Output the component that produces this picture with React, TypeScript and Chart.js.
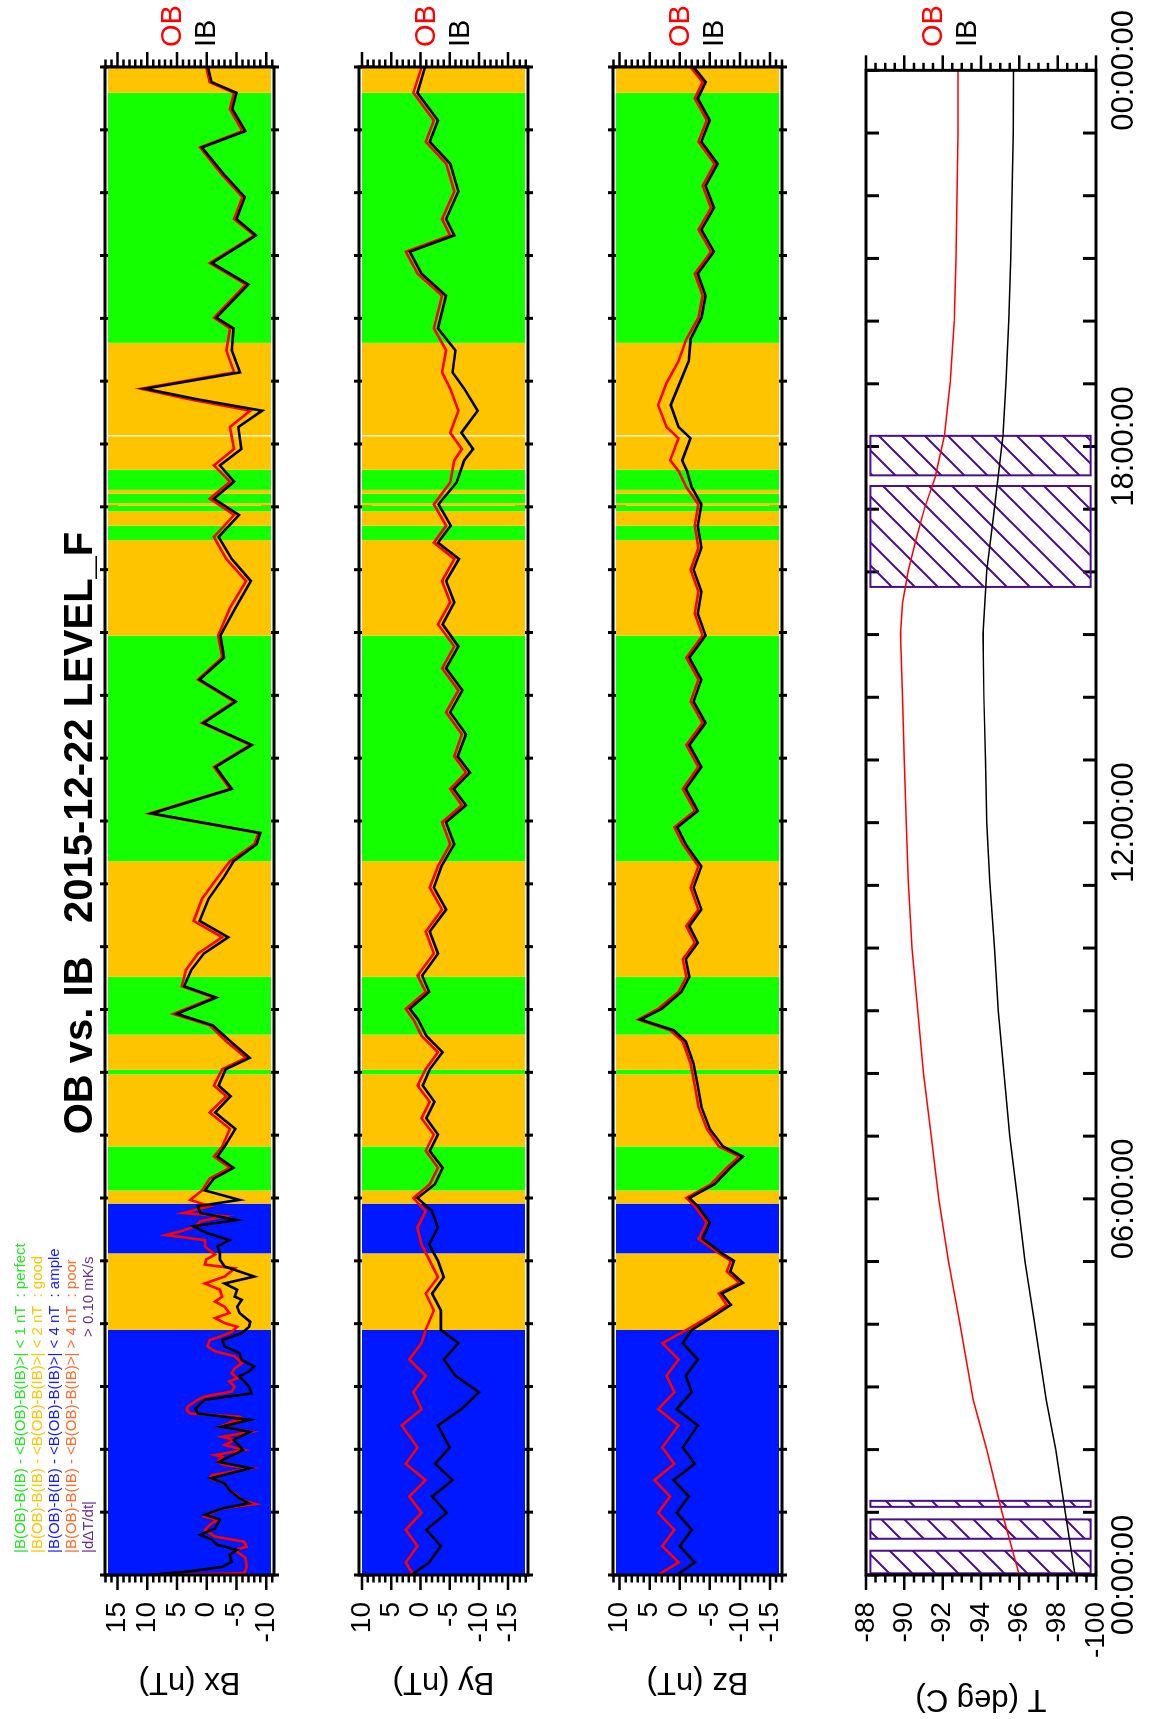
import React, { useEffect, useRef } from 'react';
import { Chart, registerables } from 'chart.js';
Chart.register(...registerables);

const FONT = '"Liberation Sans", Arial, Helvetica, sans-serif';
Chart.defaults.font.family = FONT;

// ---------- data ----------
const TIME_TICKS = [0, 6, 12, 18, 24];
const TIME_LABELS = ['00:00:00', '06:00:00', '12:00:00', '18:00:00', '00:00:00'];

const BX_TICKS = [15, 10, 5, 0, -5, -10];
const BY_TICKS = [10, 5, 0, -5, -10, -15];
const BZ_TICKS = [10, 5, 0, -5, -10, -15];
const T_TICKS = [-88, -90, -92, -94, -96, -98, -100];

// quality bands: [start h, end h, class]
const BANDS: [number, number, string][] = [
  [0, 3.9, 'b'], [3.9, 5.12, 'o'], [5.12, 5.91, 'b'], [5.91, 6.12, 'o'], [6.12, 6.82, 'g'],
  [6.82, 7.97, 'o'], [7.97, 8.04, 'g'], [8.04, 8.6, 'o'], [8.6, 9.52, 'g'], [9.52, 11.36, 'o'],
  [11.36, 14.95, 'g'], [14.95, 16.47, 'o'], [16.47, 16.7, 'g'], [16.7, 16.93, 'o'], [16.93, 17.02, 'g'],
  [17.02, 17.06, 'o'], [17.06, 17.21, 'g'], [17.21, 17.27, 'o'], [17.27, 17.59, 'g'], [17.59, 18.12, 'o'],
  [18.14, 19.61, 'o'], [19.61, 23.59, 'g'], [23.59, 24, 'o'],
];

// |dΔT/dt| flagged intervals [start h, end h]
const HATCH: [number, number][] = [
  [0.027, 0.387], [0.578, 0.887], [1.087, 1.183], [15.76, 17.37], [17.54, 18.17],
];
const HATCH_T: [number, number] = [-88.23, -99.72];

const BX_OB: [number, number][] = [
  [0, 7.0], [0.03, -6.3], [0.13, -6.7], [0.27, -6.5], [0.4, -4.7], [0.45, -6.7], [0.53, -6.3], [0.61, -1.4], [0.72, 0.3], [0.8, -0.5], [0.88, -1.8], [0.93, 0.3], [0.98, -0.7],
  [1.06, -2.6], [1.13, -8.2], [1.19, -5.9], [1.27, -5.1], [1.35, -3.8], [1.46, -3.0], [1.54, -0.5], [1.59, -0.9], [1.7, -7.5], [1.75, -3.0], [1.8, -1.8], [1.88, -2.6], [1.91, -1.4], [1.99, -6.3],
  [2.07, -3.0], [2.15, -4.7], [2.2, -2.6], [2.28, -7.5], [2.36, -2.2], [2.44, -4.2], [2.47, -6.3], [2.52, -5.5], [2.57, 2.8], [2.63, 3.4], [2.68, 3.2], [2.79, 1.5], [2.84, 0.3], [2.92, -4.2],
  [3.0, -4.7], [3.08, -3.8], [3.13, -5.1], [3.21, -4.2], [3.29, -4.7], [3.37, -5.9], [3.48, -4.7], [3.56, -1.4], [3.64, -0.1], [3.74, -0.5], [3.82, -3.0], [3.87, -4.2], [3.95, -5.1],
  [4.01, -3.0], [4.09, -1.4], [4.17, -3.8], [4.27, -3.0], [4.35, -1.4], [4.43, -2.6], [4.54, -2.2], [4.64, 0.3], [4.75, -3.0], [4.88, -4.7], [4.94, 0.3],
  [5.02, 0.1], [5.1, -1.4], [5.18, -0.3], [5.23, 0.3], [5.33, 0.3], [5.41, 6.9], [5.47, 4.4], [5.55, 1.9], [5.63, 1.1], [5.71, -3.0], [5.76, 4.0], [5.87, -0.5], [5.97, 2.8],
  [6.12, 0.8], [6.31, -0.5], [6.48, -3.9], [6.66, -1.2], [6.82, -2.6], [7.1, -3.9], [7.36, -0.5], [7.62, -3.3], [7.79, -1.2], [8.05, -2.6], [8.23, -6.6], [8.49, -3.3], [8.75, -0.5],
  [8.93, 5.6], [9.19, -1.2], [9.37, 4.2], [9.63, 3.5], [9.89, 1.5], [10.15, -2.6], [10.41, 2.2], [10.76, 0.8], [11.11, -1.9], [11.36, -3.9], [11.63, -8.0], [11.81, -8.7],
  [12.12, 9.6], [12.51, -3.9], [12.86, -1.2], [13.21, -7.3], [13.56, 0.8], [13.9, -4.6], [14.25, 1.5], [14.6, -2.6], [14.95, -1.9], [15.39, -3.9], [15.82, -6.6], [16.17, -3.3],
  [16.52, -1.2], [16.87, -4.6], [17.13, -0.5], [17.4, -3.9], [17.66, -1.2], [17.92, -4.6], [18.27, -3.9], [18.53, -7.3], [18.71, 2.8], [18.88, 11.0], [19.14, -4.6], [19.49, -3.3],
  [19.84, -3.9], [20.01, -1.2], [20.54, -6.6], [20.88, -0.5], [21.32, -8.0], [21.58, -4.6], [21.93, -6.0], [22.28, -2.6], [22.72, 1.1], [22.98, -6.0], [23.33, -3.9], [23.59, -4.6],
  [23.76, -0.5], [24, 0.1],
];
const BX_IB: [number, number][] = [
  [0, 9.8], [0.05, 3.6], [0.13, -2.6], [0.21, -4.2], [0.32, -3.8], [0.4, -5.1], [0.48, -1.8], [0.56, -0.9], [0.64, 1.1], [0.69, -0.1], [0.74, -1.4], [0.88, -2.2], [0.96, 0.3],
  [1.06, -2.6], [1.14, -7.1], [1.22, -5.5], [1.35, -3.8], [1.46, -3.0], [1.54, -0.7], [1.7, -7.3], [1.8, -2.0], [1.99, -6.1], [2.15, -4.5], [2.28, -7.3], [2.36, -2.4], [2.47, -7.3],
  [2.57, 1.5], [2.65, 1.9], [2.79, 0.3], [2.89, -7.5], [3.0, -7.1], [3.08, -6.3], [3.16, -5.5], [3.24, -7.1], [3.32, -8.0], [3.42, -5.9], [3.53, -5.5], [3.64, -3.0], [3.74, -2.6],
  [3.85, -5.9], [3.95, -7.1], [4.03, -7.3], [4.17, -5.5], [4.27, -5.1], [4.38, -5.9], [4.43, -4.7], [4.54, -5.1], [4.64, -3.0], [4.75, -8.0], [4.91, -3.0], [5.02, -2.2], [5.12, -2.2],
  [5.23, -1.8], [5.33, -3.8], [5.44, -0.1], [5.55, 2.3], [5.65, -5.1], [5.76, 1.1], [5.87, 1.5], [5.97, -5.5],
  [6.12, 0.3], [6.31, -1.2], [6.48, -4.5], [6.66, -1.8], [6.82, -3.0], [7.1, -4.8], [7.36, -1.4], [7.62, -4.0], [7.79, -2.0], [8.05, -3.2], [8.23, -7.2], [8.49, -4.0], [8.75, -1.0],
  [8.93, 5.0], [9.19, -1.6], [9.37, 3.8], [9.63, 2.6], [9.89, 0.5], [10.15, -3.6], [10.41, 1.2], [10.76, -0.3], [11.11, -2.9], [11.36, -4.5], [11.63, -8.4], [11.81, -9.0],
  [12.12, 9.2], [12.51, -4.2], [12.86, -1.5], [13.21, -7.6], [13.56, 0.5], [13.9, -4.9], [14.25, 1.2], [14.6, -2.9], [14.95, -2.3], [15.39, -4.8], [15.82, -7.4], [16.17, -4.2],
  [16.52, -2.0], [16.87, -5.4], [17.13, -1.2], [17.4, -4.6], [17.66, -2.2], [17.92, -5.8], [18.27, -5.3], [18.53, -9.3], [18.71, 1.5], [18.88, 10.4], [19.14, -5.6], [19.49, -4.2],
  [19.84, -4.5], [20.01, -1.6], [20.54, -7.0], [20.88, -0.9], [21.32, -8.3], [21.58, -5.0], [21.93, -6.4], [22.28, -3.0], [22.72, 0.8], [22.98, -6.5], [23.33, -4.3], [23.59, -5.0],
  [23.76, -0.8], [24, -0.2],
];
const BY_OB: [number, number][] = [
  [0, 1.2], [0.2, 2.5], [0.46, 0.5], [0.72, 2.5], [0.99, -0.2], [1.25, 1.9], [1.51, -0.9], [1.77, 2.5], [2.03, 0.5], [2.38, 3.2], [2.64, -0.2], [2.91, 1.2], [3.17, -0.9], [3.43, 1.9],
  [3.69, -0.2], [3.9, -0.9], [4.21, -2.3], [4.48, -0.9], [4.74, -3.0], [5.0, -1.6], [5.26, -0.2], [5.53, 0.5], [5.79, -0.9], [6.0, 1.2], [6.22, -1.6], [6.48, -3.0], [6.75, -0.9],
  [7.01, -2.3], [7.27, -0.2], [7.53, -1.6], [7.79, 0.5], [8.05, -0.9], [8.32, -3.0], [8.58, -0.2], [8.84, 1.2], [9.01, 2.5], [9.28, -0.9], [9.54, 0.5], [9.89, -2.3], [10.24, -0.9],
  [10.59, -3.7], [10.94, -1.6], [11.28, -3.0], [11.63, -5.1], [11.98, -3.7], [12.25, -7.1], [12.51, -5.1], [12.77, -7.8], [13.03, -5.8], [13.38, -7.1], [13.73, -4.4], [14.08, -6.5],
  [14.43, -3.7], [14.78, -5.8], [15.13, -3.0], [15.48, -5.1], [15.82, -3.7], [16.17, -5.8], [16.43, -2.3], [16.7, -4.4], [17.04, -2.3], [17.39, -5.1], [17.74, -5.8], [17.92, -7.1],
  [18.18, -5.1], [18.53, -6.5], [18.88, -5.1], [19.14, -3.7], [19.49, -4.4], [19.84, -2.3], [20.36, -3.7], [20.71, 0.5], [21.06, 2.5], [21.32, -5.1], [21.58, -3.7], [22.02, -5.8],
  [22.46, -4.4], [22.81, -0.9], [23.15, -2.3], [23.59, 1.2], [24, -0.2],
];
const BY_IB: [number, number][] = [
  [0, 1.5], [0.2, -1.5], [0.46, -3.5], [0.72, -1.0], [0.99, -4.5], [1.25, -2.0], [1.51, -5.5], [1.77, -2.5], [2.03, -5.0], [2.38, -3.0], [2.64, -7.0], [2.91, -10.0], [3.17, -6.0],
  [3.43, -4.0], [3.69, -6.5], [3.9, -3.5], [4.21, -3.5], [4.48, -2.0], [4.74, -4.0], [5.0, -3.0], [5.26, -1.5], [5.53, -3.0], [5.79, -2.0], [6.0, 0.5], [6.22, -2.5], [6.48, -3.8],
  [6.75, -1.6], [7.01, -3.0], [7.27, -1.0], [7.53, -2.4], [7.79, -0.4], [8.05, -1.6], [8.32, -3.8], [8.58, -1.0], [8.84, 0.4], [9.01, 1.8], [9.28, -1.5], [9.54, -0.3], [9.89, -3.0],
  [10.24, -1.6], [10.59, -4.4], [10.94, -2.3], [11.28, -3.6], [11.63, -5.8], [11.98, -4.4], [12.25, -7.8], [12.51, -5.7], [12.77, -8.5], [13.03, -6.4], [13.38, -7.8], [13.73, -5.1],
  [14.08, -7.2], [14.43, -4.4], [14.78, -6.5], [15.13, -3.8], [15.48, -5.8], [15.82, -4.4], [16.17, -6.6], [16.43, -3.0], [16.7, -5.2], [17.04, -3.1], [17.39, -6.2], [17.74, -7.5],
  [17.92, -9.0], [18.18, -7.0], [18.53, -9.8], [18.88, -7.5], [19.14, -5.5], [19.49, -6.0], [19.84, -3.0], [20.36, -4.4], [20.71, -0.2], [21.06, 1.8], [21.32, -5.8], [21.58, -4.4],
  [22.02, -6.5], [22.46, -5.1], [22.81, -1.6], [23.15, -3.0], [23.59, 0.5], [24, -0.8],
];
const BZ_OB: [number, number][] = [
  [0, 3.6], [0.2, 0.2], [0.46, 2.9], [0.72, 0.9], [0.99, 3.6], [1.25, 1.6], [1.51, 4.2], [1.77, 0.9], [2.03, 2.9], [2.38, 0.2], [2.64, 3.6], [2.91, 0.9], [3.17, 2.2], [3.43, 0.2],
  [3.69, 2.9], [3.9, -1.1], [4.13, -5.2], [4.3, -7.8], [4.48, -6.5], [4.65, -9.9], [4.83, -7.8], [5.0, -8.5], [5.12, -6.5], [5.35, -3.1], [5.61, -4.5], [5.87, -2.5], [6.0, -1.1],
  [6.22, -5.2], [6.48, -7.8], [6.66, -9.9], [6.82, -6.5], [7.1, -4.5], [7.45, -3.1], [7.79, -2.5], [8.14, -1.8], [8.49, -0.5], [8.67, 1.6], [8.84, 6.9], [9.01, 3.6], [9.28, 0.2],
  [9.52, -1.1], [9.8, -0.5], [10.06, -2.5], [10.33, -1.1], [10.59, -3.1], [10.94, -1.8], [11.28, -3.1], [11.63, -0.5], [11.9, 0.9], [12.16, -2.5], [12.51, -0.5], [12.86, -3.1],
  [13.21, -1.1], [13.56, -3.8], [13.9, -1.8], [14.25, -3.1], [14.6, -1.1], [14.95, -3.8], [15.3, -2.5], [15.65, -3.1], [16.0, -1.8], [16.35, -3.1], [16.7, -2.5], [17.04, -3.1],
  [17.31, -1.1], [17.57, 0.2], [17.74, 1.6], [18.09, 0.2], [18.27, 2.2], [18.62, 3.6], [18.97, 2.2], [19.32, 0.2], [19.67, -1.1], [20.01, -3.1], [20.36, -3.8], [20.71, -2.5],
  [21.06, -5.2], [21.41, -3.1], [21.76, -5.2], [22.11, -3.8], [22.46, -5.8], [22.81, -3.1], [23.15, -4.5], [23.5, -2.5], [23.76, -3.8], [24, -1.8],
];
const BZ_IB: [number, number][] = [
  [0, 0.5], [0.2, -2.5], [0.46, 0.0], [0.72, -2.0], [0.99, 0.5], [1.25, -1.5], [1.51, 1.0], [1.77, -2.5], [2.03, -0.5], [2.38, -3.0], [2.64, 0.5], [2.91, -2.0], [3.17, -1.0],
  [3.43, -3.0], [3.69, -0.5], [3.9, -2.0], [4.13, -5.8], [4.3, -8.5], [4.48, -7.0], [4.65, -10.5], [4.83, -8.4], [5.0, -9.0], [5.12, -7.0], [5.35, -3.8], [5.61, -5.0], [5.87, -3.0],
  [6.0, -1.6], [6.22, -5.8], [6.48, -8.4], [6.66, -10.5], [6.82, -7.2], [7.1, -5.0], [7.45, -3.6], [7.79, -3.0], [8.14, -2.3], [8.49, -1.0], [8.67, 1.0], [8.84, 6.5], [9.01, 3.0],
  [9.28, -0.3], [9.52, -1.6], [9.8, -1.0], [10.06, -3.0], [10.33, -1.6], [10.59, -3.6], [10.94, -2.3], [11.28, -3.6], [11.63, -1.0], [11.9, 0.4], [12.16, -3.0], [12.51, -1.0],
  [12.86, -3.6], [13.21, -1.6], [13.56, -4.3], [13.9, -2.3], [14.25, -3.6], [14.6, -1.6], [14.95, -4.3], [15.3, -3.0], [15.65, -3.6], [16.0, -2.3], [16.35, -3.6], [16.7, -3.0],
  [17.04, -3.6], [17.31, -2.0], [17.57, -1.2], [17.74, -0.4], [18.09, -1.8], [18.27, 0.2], [18.62, 1.5], [18.97, 0.0], [19.32, -1.5], [19.67, -1.8], [20.01, -3.6], [20.36, -4.3],
  [20.71, -3.0], [21.06, -5.7], [21.41, -3.6], [21.76, -5.7], [22.11, -4.3], [22.46, -6.3], [22.81, -3.6], [23.15, -5.0], [23.5, -3.0], [23.76, -4.3], [24, -2.3],
];
const T_OB: [number, number][] = [
  [0, -96.0], [1, -95.1], [2, -94.3], [2.79, -93.6], [4, -92.9], [5, -92.3], [6, -91.8], [7, -91.4], [8, -91.0], [9, -90.7], [10, -90.4], [11.07, -90.2], [12, -90.1],
  [13, -90.0], [14.01, -89.9], [15.01, -89.8], [15.5, -89.9], [16.02, -90.2], [16.5, -90.6], [17.02, -91.06], [17.5, -91.6], [18.18, -92.1], [19.03, -92.4], [20, -92.6],
  [21, -92.7], [22, -92.75], [23, -92.8], [24, -92.8],
];
const T_IB: [number, number][] = [
  [0, -98.9], [1, -98.4], [2, -97.9], [2.79, -97.4], [4, -96.8], [5, -96.3], [6, -95.9], [7, -95.5], [8, -95.2], [9, -94.9], [10, -94.7], [11.07, -94.46], [12, -94.3],
  [13, -94.24], [14.01, -94.15], [15.01, -94.1], [16.02, -94.3], [17.02, -94.7], [18.18, -95.15], [19.03, -95.3], [20, -95.45], [21, -95.55], [22, -95.62], [23, -95.68], [24, -95.7],
];

// ---------- layout (landscape coordinates, rotated at the end) ----------
const W = 1719;
const CH = 1180;
const PLOT_LEFT = 144;
const PLOT_RIGHT = 1652;
const XAXIS_H = 60;
const BAND_COLORS: Record<string, string> = { g: '#14ff00', o: '#ffc400', b: '#0018ff' };
const PURPLE = '#4b0f8a';

type Panel = {
  key: string; top: number; bottom: number; title: string; titlePad: number;
  range: [number, number]; ticks: number[]; major: number; minor: number;
  ob: [number, number][]; ib: [number, number][]; lw: number; bands: boolean; hatch: boolean; time: boolean;
};

const PANELS: Panel[] = [
  { key: 'bx', top: 105, bottom: 334, title: 'Bx (nT)', titlePad: 19, range: [-11.3, 17.1], ticks: BX_TICKS, major: 5, minor: 1, ob: BX_OB, ib: BX_IB, lw: 2.6, bands: true, hatch: false, time: false },
  { key: 'by', top: 359, bottom: 588, title: 'By (nT)', titlePad: 19, range: [-18.4, 10.5], ticks: BY_TICKS, major: 5, minor: 1, ob: BY_OB, ib: BY_IB, lw: 2.6, bands: true, hatch: false, time: false },
  { key: 'bz', top: 613, bottom: 842, title: 'Bz (nT)', titlePad: 19, range: [-17.0, 11.1], ticks: BZ_TICKS, major: 5, minor: 1, ob: BZ_OB, ib: BZ_IB, lw: 2.6, bands: true, hatch: false, time: false },
  { key: 't', top: 866, bottom: 1096, title: 'T (deg C)', titlePad: 2, range: [-100, -88], ticks: T_TICKS, major: 2, minor: 0.5, ob: T_OB, ib: T_IB, lw: 1.5, bands: false, hatch: true, time: true },
];

function makeHatch(): CanvasPattern | string {
  const c = document.createElement('canvas');
  c.width = 23; c.height = 23;
  const g = c.getContext('2d');
  if (!g) return PURPLE;
  g.strokeStyle = PURPLE; g.lineWidth = 2;
  g.beginPath();
  g.moveTo(-2, 25); g.lineTo(25, -2);
  g.moveTo(-14, 14); g.lineTo(14, -14);
  g.moveTo(9, 37); g.lineTo(37, 9);
  g.stroke();
  return g.createPattern(c, 'repeat') || PURPLE;
}

function panelPlugin(p: Panel) {
  return {
    id: 'panel_' + p.key,
    beforeDatasetsDraw(chart: any) {
      const { ctx, chartArea: a, scales } = chart;
      const x = scales.x, y = scales.y;
      ctx.save();
      // hourly time ticks
      ctx.strokeStyle = '#000'; ctx.lineWidth = 3;
      for (let h = 0; h <= 24; h++) {
        const px = x.getPixelForValue(h);
        ctx.beginPath();
        if (p.bands) {
          ctx.moveTo(px, a.top - 5); ctx.lineTo(px, a.top + 13);
          ctx.moveTo(px, a.bottom + 5); ctx.lineTo(px, a.bottom - 13);
        } else {
          ctx.moveTo(px, a.top); ctx.lineTo(px, a.top + 13);
          ctx.moveTo(px, a.bottom); ctx.lineTo(px, a.bottom - 13);
        }
        ctx.stroke();
      }
      if (p.bands) {
        for (const [t0, t1, c] of BANDS) {
          const x0 = x.getPixelForValue(t0), x1 = x.getPixelForValue(t1);
          ctx.fillStyle = BAND_COLORS[c];
          ctx.fillRect(x0, a.top + 3, x1 - x0, a.bottom - a.top - 6);
        }
      }
      if (p.hatch) {
        const pat = makeHatch();
        for (const [t0, t1] of HATCH) {
          const x0 = x.getPixelForValue(t0), x1 = x.getPixelForValue(t1);
          const y0 = y.getPixelForValue(HATCH_T[0]), y1 = y.getPixelForValue(HATCH_T[1]);
          ctx.fillStyle = pat as any;
          ctx.fillRect(x0, y0, x1 - x0, y1 - y0);
          ctx.strokeStyle = PURPLE; ctx.lineWidth = 2;
          ctx.strokeRect(x0, y0, x1 - x0, y1 - y0);
        }
      }
      ctx.restore();
    },
    afterDatasetsDraw(chart: any) {
      const { ctx, chartArea: a, scales } = chart;
      const y = scales.y;
      ctx.save();
      ctx.strokeStyle = '#000';
      ctx.lineWidth = 2.5;
      const [lo, hi] = p.range;
      const n0 = Math.ceil(lo / p.minor - 1e-9), n1 = Math.floor(hi / p.minor + 1e-9);
      for (let k = n0; k <= n1; k++) {
        const v = k * p.minor;
        const isMajor = Math.abs(v / p.major - Math.round(v / p.major)) < 1e-6;
        const len = isMajor ? 15 : 7.5;
        const py = y.getPixelForValue(v);
        ctx.beginPath();
        ctx.moveTo(a.left, py); ctx.lineTo(a.left - len, py);
        ctx.moveTo(a.right, py); ctx.lineTo(a.right + len, py);
        ctx.stroke();
      }
      ctx.lineWidth = 3;
      ctx.strokeRect(a.left, a.top, a.right - a.left, a.bottom - a.top);
      ctx.restore();
    },
  };
}

function PanelChart({ p }: { p: Panel }) {
  const ref = useRef<HTMLCanvasElement | null>(null);
  useEffect(() => {
    if (!ref.current) return;
    const chart = new Chart(ref.current, {
      type: 'line',
      data: {
        datasets: [
          { label: 'IB', data: p.ib.map(([x, y]) => ({ x, y })), borderColor: '#000000', borderWidth: p.lw, pointRadius: 0, tension: 0, fill: false },
          { label: 'OB', data: p.ob.map(([x, y]) => ({ x, y })), borderColor: '#ff0000', borderWidth: p.lw, pointRadius: 0, tension: 0, fill: false },
        ],
      },
      options: {
        responsive: false,
        animation: false,
        devicePixelRatio: 1,
        events: [],
        layout: { padding: { top: p.top, bottom: CH - p.bottom - (p.time ? XAXIS_H : 0), left: 0, right: W - PLOT_RIGHT } },
        plugins: { legend: { display: false }, tooltip: { enabled: false }, title: { display: false } },
        scales: {
          x: {
            type: 'linear', min: 0, max: 24, display: p.time,
            grid: { display: false, drawTicks: false }, border: { display: false },
            ticks: {
              color: '#000', font: { size: 31, family: FONT }, padding: 10, maxRotation: 0, autoSkip: false,
              callback: (_v: any, i: number) => TIME_LABELS[i],
            },
            afterBuildTicks: (s: any) => { s.ticks = TIME_TICKS.map((v) => ({ value: v })); },
            afterFit: (s: any) => { s.height = XAXIS_H; },
          },
          y: {
            type: 'linear', min: p.range[0], max: p.range[1],
            grid: { display: false, drawTicks: false }, border: { display: false },
            ticks: { color: '#000', font: { size: 28, family: FONT }, padding: 27, autoSkip: false, callback: (v: any) => String(v) },
            afterBuildTicks: (s: any) => { s.ticks = p.ticks.map((v) => ({ value: v })); },
            afterFit: (s: any) => { s.width = PLOT_LEFT; },
            title: { display: true, text: p.title, color: '#000', font: { size: 31, family: FONT }, padding: { top: p.titlePad, bottom: 0 } },
          },
        },
      } as any,
      plugins: [panelPlugin(p)],
    });
    return () => chart.destroy();
  }, [p]);
  return <canvas ref={ref} width={W} height={CH} style={{ position: 'absolute', left: 0, top: 0, width: W, height: CH }} />;
}

const LEGEND = [
  { text: '|B(OB)-B(IB) - <B(OB)-B(IB)>| < 1 nT  : perfect', color: '#22e622' },
  { text: '|B(OB)-B(IB) - <B(OB)-B(IB)>| < 2 nT  : good', color: '#ffc400' },
  { text: '|B(OB)-B(IB) - <B(OB)-B(IB)>| < 4 nT  : ample', color: '#1a1aff' },
  { text: '|B(OB)-B(IB) - <B(OB)-B(IB)>| > 4 nT  : poor', color: '#ff6a2a' },
];

export default function App() {
  const txt: React.CSSProperties = { position: 'absolute', fontFamily: FONT, whiteSpace: 'pre', lineHeight: 1, margin: 0 };
  return (
    <div style={{ position: 'absolute', left: 0, top: 0, width: 1149, height: 1719, overflow: 'hidden', background: '#fff' }}>
      <div style={{ position: 'absolute', left: 0, top: 0, width: W, height: CH, transformOrigin: '0 0', transform: 'translate(0px, 1719px) rotate(-90deg)' }}>
        {PANELS.map((p) => <PanelChart key={p.key} p={p} />)}
        <div style={{ ...txt, left: 886, top: 78, transform: 'translate(-50%, -50%)', fontSize: 40, fontWeight: 'bold', color: '#000' }}>
          {'OB vs. IB   2015-12-22 LEVEL_F'}
        </div>
        {PANELS.map((p) => (
          <React.Fragment key={'lab' + p.key}>
            <div style={{ ...txt, left: 1672, top: p.top + 66, transform: 'translateY(-50%)', fontSize: 29, color: '#ff0000' }}>OB</div>
            <div style={{ ...txt, left: 1672, top: p.top + 100, transform: 'translateY(-50%)', fontSize: 29, color: '#000' }}>IB</div>
          </React.Fragment>
        ))}
        {LEGEND.map((l, i) => (
          <div key={'lg' + i} style={{ ...txt, left: 166, top: 19 + 17 * i, transform: 'translateY(-50%)', fontSize: 15, color: l.color }}>{l.text}</div>
        ))}
        <div style={{ ...txt, left: 166, top: 87, transform: 'translateY(-50%)', fontSize: 15, color: '#6a2c91' }}>{'|dΔT/dt|'}</div>
        <div style={{ ...txt, left: 382, top: 87, transform: 'translateY(-50%)', fontSize: 15, color: '#6a2c91' }}>{'> 0.10 mK/s'}</div>
      </div>
    </div>
  );
}
